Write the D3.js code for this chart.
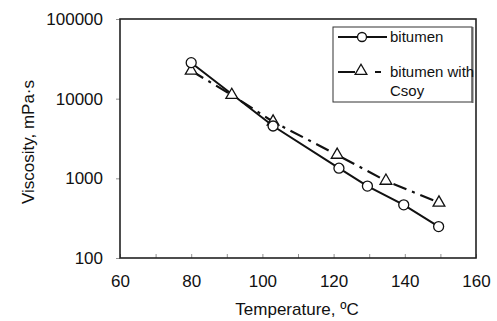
<!DOCTYPE html>
<html><head><meta charset="utf-8">
<script src="https://cdn.jsdelivr.net/npm/d3@7"></script>
<style>body{margin:0;background:#fff}svg{display:block;font-family:"Liberation Sans",Arial,sans-serif}</style>
</head><body><svg width="497" height="321"></svg>
<script>
const bitumenT = [80, 103, 121.5, 129.5, 139.7, 149.5];
const bitumenV = [28300, 4540, 1340, 800, 465, 248];
const csoyT = [80, 91.4, 103, 121, 134.7, 149.6];
const csoyV = [22400, 11100, 5140, 1970, 930, 495];
const xTicks = [60, 80, 100, 120, 140, 160];
const yTicks = [100, 1000, 10000, 100000];
const seriesNames = ["bitumen", "bitumen with", "Csoy"];

const svg = d3.select("svg");
const L = 120, R = 476, T = 19, B = 258;
const x = d3.scaleLinear().domain([60, 160]).range([L, R]);
const y = d3.scaleLog().domain([100, 100000]).range([B, T]);

// minor inward x ticks
svg.append("g").attr("transform", `translate(0,${B})`)
  .call(d3.axisBottom(x).tickValues(d3.range(60, 161, 10)).tickSize(-4).tickFormat(""))
  .call(g => { g.select(".domain").remove(); g.selectAll("line").attr("stroke", "#777").attr("stroke-width", 0.8); });

// y ticks outward
svg.append("g").attr("transform", `translate(${L},0)`)
  .call(d3.axisLeft(y).tickValues(yTicks).tickSize(4).tickFormat(d => d))
  .call(g => {
    g.select(".domain").remove();
    g.selectAll("line").attr("stroke", "#777").attr("stroke-width", 0.8);
    g.selectAll("text").attr("x", -17).attr("font-size", 17).attr("fill", "#111")
      .attr("font-family", "Liberation Sans, Arial, sans-serif");
  });

svg.append("g").attr("transform", `translate(0,${B})`)
  .call(d3.axisBottom(x).tickValues(xTicks).tickSize(0).tickFormat(d => d))
  .call(g => {
    g.select(".domain").remove();
    g.selectAll("text").attr("y", 17).attr("font-size", 17).attr("fill", "#111")
      .attr("font-family", "Liberation Sans, Arial, sans-serif");
  });

// frame
svg.append("rect").attr("x", L).attr("y", T).attr("width", R - L).attr("height", B - T)
  .attr("fill", "none").attr("stroke", "#222").attr("stroke-width", 1.6);

const line = d3.line().x(d => x(d[0])).y(d => y(d[1]));
const bit = bitumenT.map((t, i) => [t, bitumenV[i]]);
const soy = csoyT.map((t, i) => [t, csoyV[i]]);

svg.append("path").datum(soy).attr("d", line).attr("fill", "none")
  .attr("stroke", "#111").attr("stroke-width", 2.2).attr("stroke-dasharray", "14,6,3,6");
svg.append("path").datum(bit).attr("d", line).attr("fill", "none")
  .attr("stroke", "#111").attr("stroke-width", 2);

const tri = d3.symbol().type(d3.symbolTriangle).size(60);
svg.selectAll(".tri").data(soy).enter().append("path")
  .attr("transform", d => `translate(${x(d[0])},${y(d[1])})`).attr("d", tri)
  .attr("fill", "#fff").attr("stroke", "#111").attr("stroke-width", 1.3);
svg.selectAll(".circ").data(bit).enter().append("circle")
  .attr("cx", d => x(d[0])).attr("cy", d => y(d[1])).attr("r", 5)
  .attr("fill", "#fff").attr("stroke", "#111").attr("stroke-width", 1.3);

// legend
const lg = svg.append("g");
lg.append("rect").attr("x", 333).attr("y", 27).attr("width", 139).attr("height", 75)
  .attr("fill", "#fff").attr("stroke", "#333").attr("stroke-width", 1);
lg.append("line").attr("x1", 472.5).attr("x2", 472.5).attr("y1", 27).attr("y2", 103)
  .attr("stroke", "#666").attr("stroke-width", 2);
lg.append("line").attr("x1", 338).attr("x2", 387).attr("y1", 37).attr("y2", 37)
  .attr("stroke", "#111").attr("stroke-width", 2);
lg.append("circle").attr("cx", 362).attr("cy", 37).attr("r", 4.5)
  .attr("fill", "#fff").attr("stroke", "#111").attr("stroke-width", 1.3);
lg.append("line").attr("x1", 338).attr("x2", 387).attr("y1", 72).attr("y2", 72)
  .attr("stroke", "#111").attr("stroke-width", 2.2).attr("stroke-dasharray", "17,20,6");
lg.append("path").attr("transform", "translate(361,71)").attr("d", tri)
  .attr("fill", "#fff").attr("stroke", "#111").attr("stroke-width", 1.3);
lg.append("text").attr("x", 390).attr("y", 42).attr("font-size", 15).attr("fill", "#111").text(seriesNames[0]);
lg.append("text").attr("x", 390).attr("y", 77).attr("font-size", 15).attr("fill", "#111").text(seriesNames[1]);
lg.append("text").attr("x", 390).attr("y", 96).attr("font-size", 15).attr("fill", "#111").text(seriesNames[2]);

// axis titles
svg.append("text").attr("x", 297).attr("y", 315).attr("text-anchor", "middle")
  .attr("font-size", 17).attr("fill", "#111").text("Temperature, ºC");
svg.append("text").attr("transform", "translate(34,142) rotate(-90)").attr("text-anchor", "middle")
  .attr("font-size", 17).attr("fill", "#111").text("Viscosity, mPa·s");
</script></body></html>
